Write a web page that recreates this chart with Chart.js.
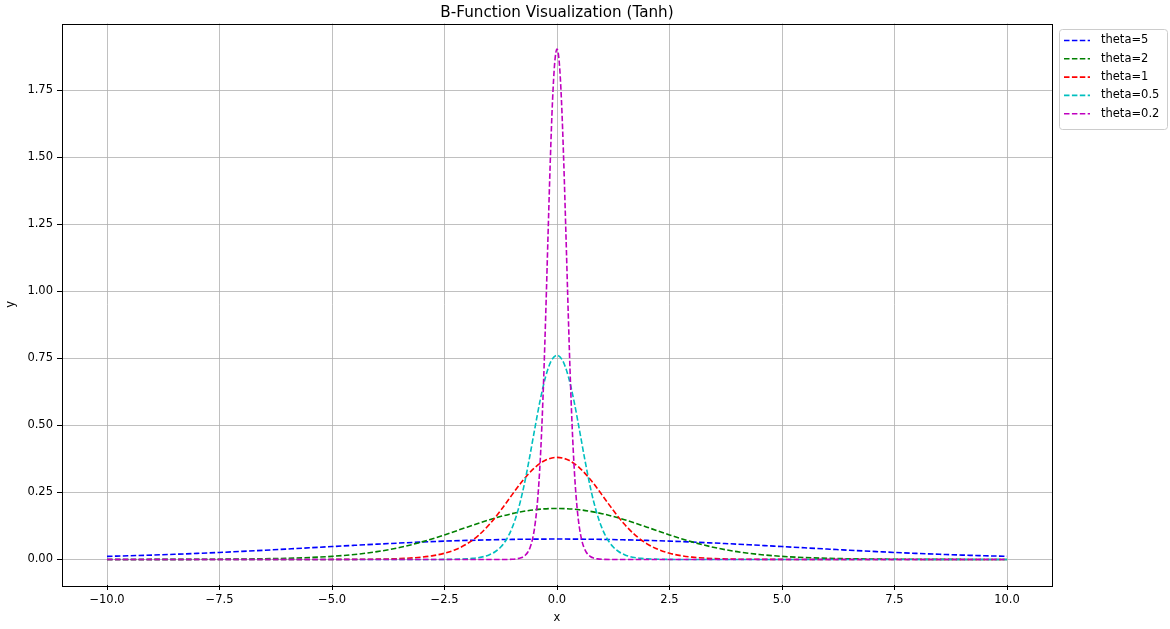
<!DOCTYPE html>
<html>
<head>
<meta charset="utf-8">
<title>B-Function Visualization (Tanh)</title>
<script src="https://cdn.jsdelivr.net/npm/chart.js@4.4.1/dist/chart.umd.min.js"></script>
<style>
  html, body { margin: 0; padding: 0; background: #fff; }
  canvas { display: block; }
</style>
</head>
<body>
<canvas id="chart" width="1170" height="629"></canvas>
<script>
// Data
const seriesLabels = ['theta=5', 'theta=2', 'theta=1', 'theta=0.5', 'theta=0.2'];
const seriesColors = ['#0000ff', '#008000', '#ff0000', '#00bfbf', '#bf00bf'];

const xWide = [-10, -9.5, -9, -8.5, -8, -7.5, -7, -6.5, -6, -5.5, -5, -4.5, -4, -3.5, -3, -2.5, -2, -1.5, -1, -0.5,
    0, 0.5, 1, 1.5, 2, 2.5, 3, 3.5, 4, 4.5, 5, 5.5, 6, 6.5, 7, 7.5, 8, 8.5, 9, 9.5, 10];

const theta5Y = [0.0117, 0.0139, 0.0164, 0.0193, 0.0226, 0.0262, 0.0302, 0.0344, 0.0389, 0.0435, 0.0482, 0.0528, 0.0572,
    0.0613, 0.0651, 0.0684, 0.0711, 0.0733, 0.0749, 0.0758, 0.0762, 0.0758, 0.0749, 0.0733, 0.0711, 0.0684, 0.0651,
    0.0613, 0.0572, 0.0528, 0.0482, 0.0435, 0.0389, 0.0344, 0.0302, 0.0262, 0.0226, 0.0193, 0.0164, 0.0139, 0.0117];

const theta2Y = [0.0001, 0.0001, 0.0002, 0.0004, 0.0006, 0.0010, 0.0017, 0.0027, 0.0044, 0.0072, 0.0117, 0.0186, 0.0292,
    0.0446, 0.0656, 0.0917, 0.1205, 0.1483, 0.1709, 0.1855, 0.1904, 0.1855, 0.1709, 0.1483, 0.1205, 0.0917, 0.0656,
    0.0446, 0.0292, 0.0186, 0.0117, 0.0072, 0.0044, 0.0027, 0.0017, 0.0010, 0.0006, 0.0004, 0.0002, 0.0001, 0.0001];

const theta1X = [-10, -8, -6, -5, -4.5, -4, -3.5, -3, -2.75, -2.5, -2.25, -2, -1.75, -1.5, -1.25, -1, -0.75, -0.5, -0.25,
    0, 0.25, 0.5, 0.75, 1, 1.25, 1.5, 1.75, 2, 2.25, 2.5, 2.75, 3, 3.5, 4, 4.5, 5, 6, 8, 10];
const theta1Y = [0, 0, 0, 0.0002, 0.0005, 0.0012, 0.0033, 0.0088, 0.0144, 0.0233, 0.0372, 0.0584, 0.0892, 0.1311, 0.1833,
    0.2410, 0.2966, 0.3418, 0.3709, 0.3808, 0.3709, 0.3418, 0.2966, 0.2410, 0.1833, 0.1311, 0.0892, 0.0584, 0.0372,
    0.0233, 0.0144, 0.0088, 0.0033, 0.0012, 0.0005, 0.0002, 0, 0, 0];

const theta05X = [-10, -6, -4, -3, -2.5, -2, -1.875, -1.75, -1.625, -1.5, -1.375, -1.25, -1.125, -1, -0.875, -0.75, -0.625,
    -0.5, -0.375, -0.25, -0.125, 0, 0.125, 0.25, 0.375, 0.5, 0.625, 0.75, 0.875, 1, 1.125, 1.25, 1.375, 1.5, 1.625,
    1.75, 1.875, 2, 2.5, 3, 4, 6, 10];
const theta05Y = [0, 0, 0, 0, 0.0003, 0.0024, 0.0040, 0.0066, 0.0108, 0.0176, 0.0288, 0.0466, 0.0744, 0.1168, 0.1784,
    0.2622, 0.3666, 0.4820, 0.5932, 0.6836, 0.7418, 0.7616, 0.7418, 0.6836, 0.5932, 0.4820, 0.3666, 0.2622, 0.1784,
    0.1168, 0.0744, 0.0466, 0.0288, 0.0176, 0.0108, 0.0066, 0.0040, 0.0024, 0.0003, 0, 0, 0, 0];

const theta02X = [-10, -5, -3, -2, -1.5, -1.25, -1, -0.9, -0.8, -0.75, -0.7, -0.65, -0.6, -0.55, -0.5, -0.45, -0.4, -0.35,
    -0.3, -0.25, -0.2, -0.15, -0.1, -0.05, 0, 0.05, 0.1, 0.15, 0.2, 0.25, 0.3, 0.35, 0.4, 0.45, 0.5, 0.55, 0.6, 0.65,
    0.7, 0.75, 0.8, 0.9, 1, 1.25, 1.5, 2, 3, 5, 10];
const theta02Y = [0, 0, 0, 0, 0, 0, 0.0008, 0.0023, 0.006, 0.010, 0.0165, 0.027, 0.044, 0.072, 0.1165, 0.186, 0.292,
    0.446, 0.6555, 0.9165, 1.205, 1.483, 1.709, 1.8545, 1.904, 1.8545, 1.709, 1.483, 1.205, 0.9165, 0.6555, 0.446,
    0.292, 0.186, 0.1165, 0.072, 0.044, 0.027, 0.0165, 0.010, 0.006, 0.0023, 0.0008, 0, 0, 0, 0, 0, 0];

const xTicks = [-10, -7.5, -5, -2.5, 0, 2.5, 5, 7.5, 10];
const yTicks = [0, 0.25, 0.5, 0.75, 1, 1.25, 1.5, 1.75];

const FONT = '"DejaVu Sans", "Liberation Sans", sans-serif';
const minus = s => s.replace('-', '\u2212');

const seriesX = [xWide, xWide, theta1X, theta05X, theta02X];
const seriesY = [theta5Y, theta2Y, theta1Y, theta05Y, theta02Y];

const datasets = seriesLabels.map((label, i) => ({
    label: label,
    data: seriesX[i].map((x, j) => ({ x: x, y: seriesY[i][j] })),
    borderColor: seriesColors[i],
    borderWidth: 1.6,
    borderDash: [5.5, 2.4],
    pointRadius: 0,
    fill: false,
    cubicInterpolationMode: 'monotone',
    order: seriesLabels.length - i,
}));

// title, frame and legend drawn like matplotlib
const decorPlugin = {
    id: 'decor',
    afterDraw(chart) {
        const { ctx, chartArea } = chart;
        ctx.save();

        // axes frame
        ctx.strokeStyle = '#000';
        ctx.lineWidth = 1;
        ctx.setLineDash([]);
        ctx.strokeRect(Math.round(chartArea.left) + 0.5, Math.round(chartArea.top) + 0.5,
            Math.round(chartArea.right - chartArea.left), Math.round(chartArea.bottom - chartArea.top));

        // title
        ctx.fillStyle = '#000';
        ctx.font = `15.2px ${FONT}`;
        ctx.textAlign = 'center';
        ctx.textBaseline = 'alphabetic';
        ctx.fillText('B-Function Visualization (Tanh)', (chartArea.left + chartArea.right) / 2, 16.5);

        // legend
        const bx = 1059.5, by = 29.5, bw = 108, bh = 100, r = 3;
        ctx.beginPath();
        ctx.moveTo(bx + r, by);
        ctx.arcTo(bx + bw, by, bx + bw, by + bh, r);
        ctx.arcTo(bx + bw, by + bh, bx, by + bh, r);
        ctx.arcTo(bx, by + bh, bx, by, r);
        ctx.arcTo(bx, by, bx + bw, by, r);
        ctx.closePath();
        ctx.fillStyle = 'rgba(255,255,255,0.8)';
        ctx.fill();
        ctx.strokeStyle = '#cccccc';
        ctx.stroke();

        ctx.font = `11.5px ${FONT}`;
        ctx.textAlign = 'left';
        ctx.textBaseline = 'middle';
        seriesLabels.forEach((label, i) => {
            const y = 40.5 + i * 18.3;
            ctx.strokeStyle = seriesColors[i];
            ctx.lineWidth = 1.6;
            ctx.setLineDash([5.5, 2.4]);
            ctx.beginPath();
            ctx.moveTo(1064, y);
            ctx.lineTo(1090, y);
            ctx.stroke();
            ctx.fillStyle = '#000';
            ctx.fillText(label, 1101, y);
        });
        ctx.restore();
    }
};

new Chart(document.getElementById('chart').getContext('2d'), {
    type: 'line',
    data: { datasets: datasets },
    options: {
        responsive: false,
        animation: false,
        devicePixelRatio: 1,
        layout: { padding: { left: 0, right: 118, top: 23.5, bottom: 0 } },
        plugins: {
            legend: { display: false },
            title: { display: false },
            tooltip: { enabled: false },
        },
        scales: {
            x: {
                type: 'linear',
                min: -11,
                max: 11,
                afterBuildTicks: axis => { axis.ticks = xTicks.map(v => ({ value: v })); },
                afterFit: axis => { axis.height = 44; },
                border: { display: false },
                grid: { color: '#b0b0b0', lineWidth: 0.8, tickLength: 5, tickColor: '#000', tickWidth: 1 },
                ticks: {
                    color: '#000',
                    padding: 3,
                    maxRotation: 0,
                    font: { family: FONT, size: 11.5 },
                    callback: v => minus(Number(v).toFixed(1)),
                },
                title: { display: true, text: 'x', color: '#000', font: { family: FONT, size: 11.5 }, padding: { top: 4, bottom: 4 } },
            },
            y: {
                type: 'linear',
                min: -0.0952,
                max: 1.9992,
                afterBuildTicks: axis => { axis.ticks = yTicks.map(v => ({ value: v })); },
                afterFit: axis => { axis.width = 62; },
                border: { display: false },
                grid: { color: '#b0b0b0', lineWidth: 0.8, tickLength: 5, tickColor: '#000', tickWidth: 1 },
                ticks: {
                    color: '#000',
                    padding: 4,
                    font: { family: FONT, size: 11.5 },
                    callback: v => minus(Number(v).toFixed(2)),
                },
                title: { display: true, text: 'y', color: '#000', font: { family: FONT, size: 11.5 }, padding: { top: 4, bottom: 4 } },
            },
        },
    },
    plugins: [decorPlugin],
});
</script>
</body>
</html>
